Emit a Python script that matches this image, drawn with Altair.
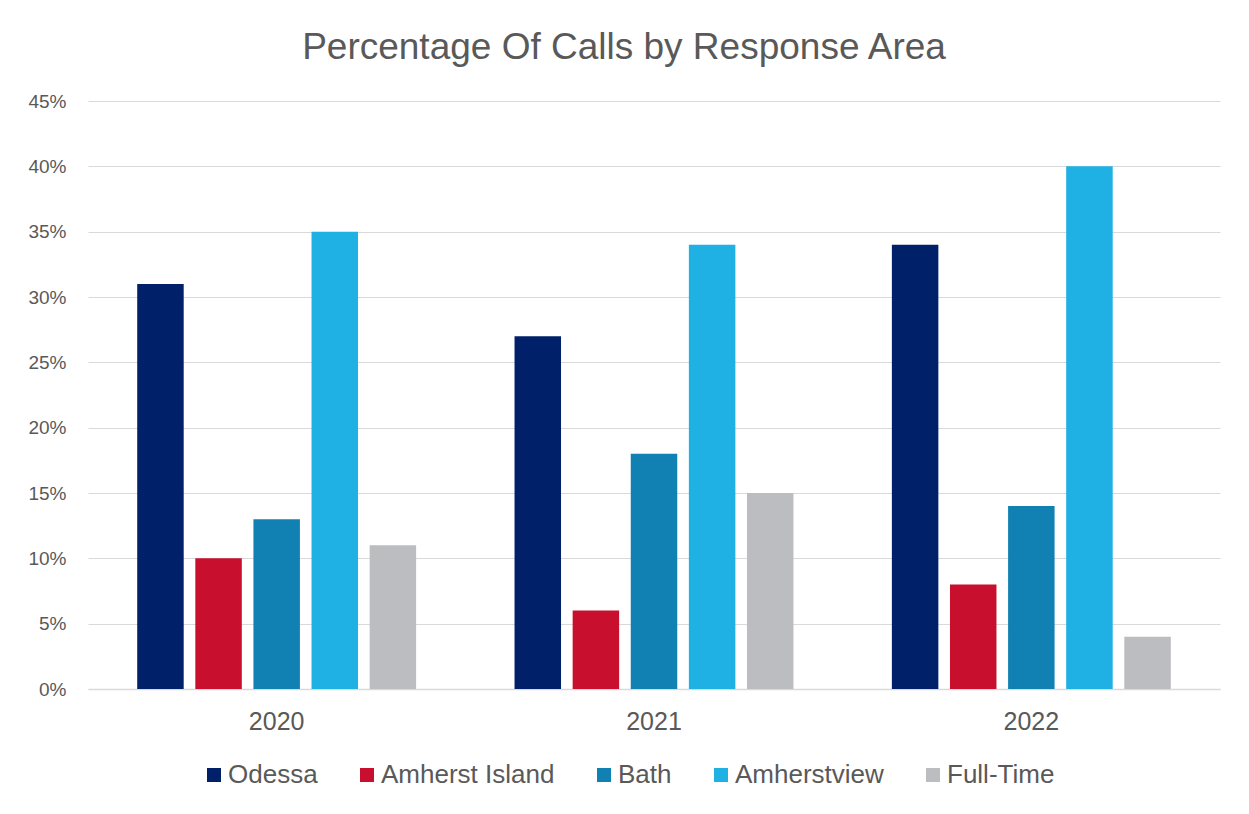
import altair as alt
import pandas as pd

years = ["2020", "2021", "2022"]
areas = ["Odessa", "Amherst Island", "Bath", "Amherstview", "Full-Time"]
colors = ["#002169", "#C8102E", "#1180B3", "#1FB1E4", "#BCBDC0"]
odessa = [31, 27, 34]
amherst_island = [10, 6, 8]
bath = [13, 18, 14]
amherstview = [35, 34, 40]
full_time = [11, 15, 4]

series = [odessa, amherst_island, bath, amherstview, full_time]
rows = []
for a, vals in zip(areas, series):
    for y, v in zip(years, vals):
        rows.append({"year": y, "area": a, "pct": v / 100})
df = pd.DataFrame(rows)

FONT = "Liberation Sans"
GREY = "#595959"

chart = alt.Chart(df).mark_bar().encode(
    x=alt.X("year:N", sort=years, title=None,
            scale=alt.Scale(paddingInner=0.23, paddingOuter=0.115),
            axis=alt.Axis(labelAngle=0, labelFontSize=25, labelColor=GREY, labelFont=FONT,
                          labelPadding=20, labelBaseline="top", ticks=False,
                          domainColor="#D9D9D9", domainWidth=1.5)),
    xOffset=alt.XOffset("area:N", sort=areas,
                        scale=alt.Scale(paddingInner=0.2, paddingOuter=0.1)),
    y=alt.Y("pct:Q", title=None,
            scale=alt.Scale(domain=[0, 0.45], nice=False),
            axis=alt.Axis(format=".0%", values=[i / 100 for i in range(0, 46, 5)],
                          labelFontSize=19, labelColor=GREY, labelFont=FONT,
                          labelPadding=22, ticks=False, domain=False,
                          gridColor="#D9D9D9", gridWidth=1)),
    color=alt.Color("area:N", sort=areas,
                    scale=alt.Scale(domain=areas, range=colors),
                    legend=alt.Legend(title=None, orient="none", direction="horizontal",
                                      legendX=113, legendY=661, padding=0,
                                      symbolType="square", symbolSize=196, symbolStrokeWidth=0,
                                      labelFontSize=26, labelColor=GREY, labelFont=FONT,
                                      labelLimit=400, columnPadding=36, labelOffset=1)),
).properties(
    width=1132, height=588,
    title=alt.Title("Percentage Of Calls by Response Area", fontSize=37, font=FONT,
                    color=GREY, fontWeight="normal", anchor="middle", dx=-30, dy=43,
                    baseline="alphabetic", offset=39),
    autosize=alt.AutoSizeParams(type="none"),
    padding={"left": 80, "top": 93, "right": 21, "bottom": 100},
).configure_view(stroke=None)

chart.save("out.html", embed_options={"renderer": "svg", "actions": False})
